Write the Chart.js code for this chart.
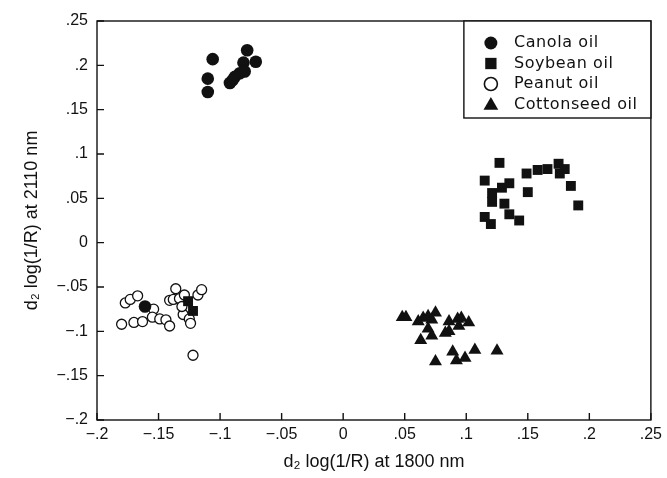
<!DOCTYPE html>
<html>
<head>
<meta charset="utf-8">
<script src="https://cdn.jsdelivr.net/npm/chart.js@4.4.1/dist/chart.umd.min.js"></script>
<style>
  html, body { margin: 0; padding: 0; background: #fff; }
  #wrap { width: 667px; height: 478px; position: relative; }
</style>
</head>
<body>
<div id="wrap"><canvas id="oilChart"></canvas></div>
<script>
// legend / series names
const seriesNames = ['Canola oil', 'Soybean oil', 'Peanut oil', 'Cottonseed oil'];

// axis ticks
const xTicks = [-0.2, -0.15, -0.1, -0.05, 0, 0.05, 0.1, 0.15, 0.2, 0.25];
const yTicks = [-0.2, -0.15, -0.1, -0.05, 0, 0.05, 0.1, 0.15, 0.2, 0.25];

// canola oil (filled circles)
const canolaX = [-0.106, -0.110, -0.110, -0.078, -0.081, -0.071, -0.080, -0.088, -0.092, -0.090, -0.084, -0.161];
const canolaY = [0.207, 0.185, 0.170, 0.217, 0.203, 0.204, 0.193, 0.187, 0.180, 0.183, 0.191, -0.072];

// soybean oil (filled squares)
const soyX = [0.127, 0.115, 0.149, 0.158, 0.166, 0.175, 0.176, 0.180, 0.135, 0.129, 0.121, 0.121, 0.150, 0.185, 0.191, 0.131, 0.135, 0.115, 0.120, 0.143, -0.126, -0.122];
const soyY = [0.090, 0.070, 0.078, 0.082, 0.083, 0.089, 0.078, 0.083, 0.067, 0.062, 0.056, 0.046, 0.057, 0.064, 0.042, 0.044, 0.032, 0.029, 0.021, 0.025, -0.066, -0.077];

// peanut oil (open circles)
const peanutX = [-0.180, -0.170, -0.163, -0.177, -0.173, -0.167, -0.154, -0.155, -0.149, -0.144, -0.141, -0.141, -0.136, -0.138, -0.133, -0.129, -0.118, -0.115, -0.130, -0.125, -0.124, -0.131, -0.122];
const peanutY = [-0.092, -0.090, -0.089, -0.068, -0.064, -0.060, -0.075, -0.084, -0.086, -0.087, -0.094, -0.065, -0.052, -0.064, -0.063, -0.059, -0.059, -0.053, -0.081, -0.086, -0.091, -0.072, -0.127];

// cottonseed oil (filled triangles)
const cottonX = [0.048, 0.051, 0.065, 0.069, 0.075, 0.072, 0.061, 0.069, 0.072, 0.063, 0.086, 0.093, 0.096, 0.102, 0.094, 0.086, 0.083, 0.089, 0.107, 0.125, 0.075, 0.092, 0.099];
const cottonY = [-0.084, -0.084, -0.085, -0.083, -0.079, -0.087, -0.089, -0.097, -0.105, -0.110, -0.089, -0.086, -0.085, -0.090, -0.094, -0.100, -0.102, -0.123, -0.121, -0.122, -0.134, -0.133, -0.130];

const INK = '#111';

function toPoints(xs, ys) {
    return xs.map((x, i) => ({ x: x, y: ys[i] }));
}

function fmtTick(v) {
    const r = Math.round(v * 100) / 100;
    if (r === 0) return '0';
    const s = String(Math.abs(r)).replace(/^0\./, '.');
    return (r < 0 ? '\u2212' : '') + s;
}

// frame + inward tick marks
const frameTicks = {
    id: 'frameTicks',
    afterDraw(chart) {
        const { ctx, chartArea: a, scales } = chart;
        ctx.save();
        ctx.strokeStyle = INK;
        ctx.lineWidth = 1.4;
        ctx.strokeRect(a.left, a.top, a.right - a.left, a.bottom - a.top);
        ctx.beginPath();
        xTicks.forEach(v => {
            const px = scales.x.getPixelForValue(v);
            ctx.moveTo(px, a.bottom);
            ctx.lineTo(px, a.bottom - 7);
        });
        yTicks.forEach(v => {
            const py = scales.y.getPixelForValue(v);
            ctx.moveTo(a.left, py);
            ctx.lineTo(a.left + 7, py);
        });
        ctx.stroke();
        ctx.restore();
    }
};

function drawMarker(ctx, style, x, y, r, filled) {
    ctx.beginPath();
    if (style === 'circle') {
        ctx.arc(x, y, r, 0, Math.PI * 2);
    } else if (style === 'rect') {
        const s = r * Math.SQRT1_2;
        ctx.rect(x - s, y - s, s * 2, s * 2);
    } else if (style === 'triangle') {
        ctx.moveTo(x, y - r);
        ctx.lineTo(x + r * 0.866, y + r * 0.5);
        ctx.lineTo(x - r * 0.866, y + r * 0.5);
        ctx.closePath();
    }
    if (filled) ctx.fill(); else ctx.stroke();
}

// boxed legend inside the top-right corner of the plot
const boxLegend = {
    id: 'boxLegend',
    afterDraw(chart) {
        const { ctx, chartArea: a } = chart;
        const left = a.right - 187, top = a.top, bottom = a.top + 97;
        ctx.save();
        ctx.fillStyle = '#fff';
        ctx.fillRect(left, top, a.right - left, bottom - top);
        ctx.strokeStyle = INK;
        ctx.lineWidth = 1.4;
        ctx.strokeRect(left, top, a.right - left, bottom - top);
        ctx.font = '16px "DejaVu Sans"';
        ctx.letterSpacing = '0.6px';
        ctx.textBaseline = 'middle';
        chart.data.datasets.forEach((ds, i) => {
            const y = top + 22 + i * 20.5;
            ctx.fillStyle = INK;
            ctx.strokeStyle = INK;
            ctx.lineWidth = 1.6;
            const filled = ds.backgroundColor !== '#fff';
            const r = ds.pointStyle === 'rect' ? 8 : (ds.pointStyle === 'triangle' ? 8.5 : 6.5);
            drawMarker(ctx, ds.pointStyle, left + 27, y + (ds.pointStyle === 'triangle' ? 1 : 0), r, filled);
            ctx.fillText(ds.label, left + 50, y);
        });
        ctx.restore();
    }
};

const tickFont = { family: '"Liberation Sans", Arial, sans-serif', size: 16 };
const titleFont = { family: '"Liberation Sans", Arial, sans-serif', size: 18 };

new Chart(document.getElementById('oilChart').getContext('2d'), {
    type: 'scatter',
    data: {
        datasets: [
            { label: seriesNames[0], data: toPoints(canolaX, canolaY), pointStyle: 'circle', pointRadius: 6.3, backgroundColor: INK, borderColor: INK, borderWidth: 0 },
            { label: seriesNames[1], data: toPoints(soyX, soyY), pointStyle: 'rect', pointRadius: 7, backgroundColor: INK, borderColor: INK, borderWidth: 0 },
            { label: seriesNames[2], data: toPoints(peanutX, peanutY), pointStyle: 'circle', pointRadius: 5, backgroundColor: '#fff', borderColor: INK, borderWidth: 1.3 },
            { label: seriesNames[3], data: toPoints(cottonX, cottonY), pointStyle: 'triangle', pointRadius: 7.5, backgroundColor: INK, borderColor: INK, borderWidth: 0 }
        ]
    },
    options: {
        responsive: true,
        maintainAspectRatio: false,
        animation: false,
        layout: { padding: { top: 21, right: 14, left: 0, bottom: 0 } },
        plugins: { legend: { display: false }, tooltip: { enabled: false } },
        scales: {
            x: {
                type: 'linear',
                min: -0.2, max: 0.25,
                afterBuildTicks: s => { s.ticks = xTicks.map(v => ({ value: v })); },
                afterFit: s => { s.height = 58; },
                grid: { display: false, drawTicks: false },
                border: { display: false },
                ticks: { color: INK, font: tickFont, padding: 5, maxRotation: 0, callback: fmtTick },
                title: { display: true, text: 'd\u2082 log(1/R) at 1800 nm', color: INK, font: titleFont, padding: { top: 0, bottom: 5 } }
            },
            y: {
                type: 'linear',
                min: -0.2, max: 0.25,
                afterBuildTicks: s => { s.ticks = yTicks.map(v => ({ value: v })); },
                afterFit: s => { s.width = 97; },
                grid: { display: false, drawTicks: false },
                border: { display: false },
                ticks: { color: INK, font: tickFont, padding: 9, callback: fmtTick },
                title: { display: true, text: 'd\u2082 log(1/R) at 2110 nm', color: INK, font: titleFont, padding: { top: 21, bottom: 0 } }
            }
        }
    },
    plugins: [frameTicks, boxLegend]
});
</script>
</body>
</html>
